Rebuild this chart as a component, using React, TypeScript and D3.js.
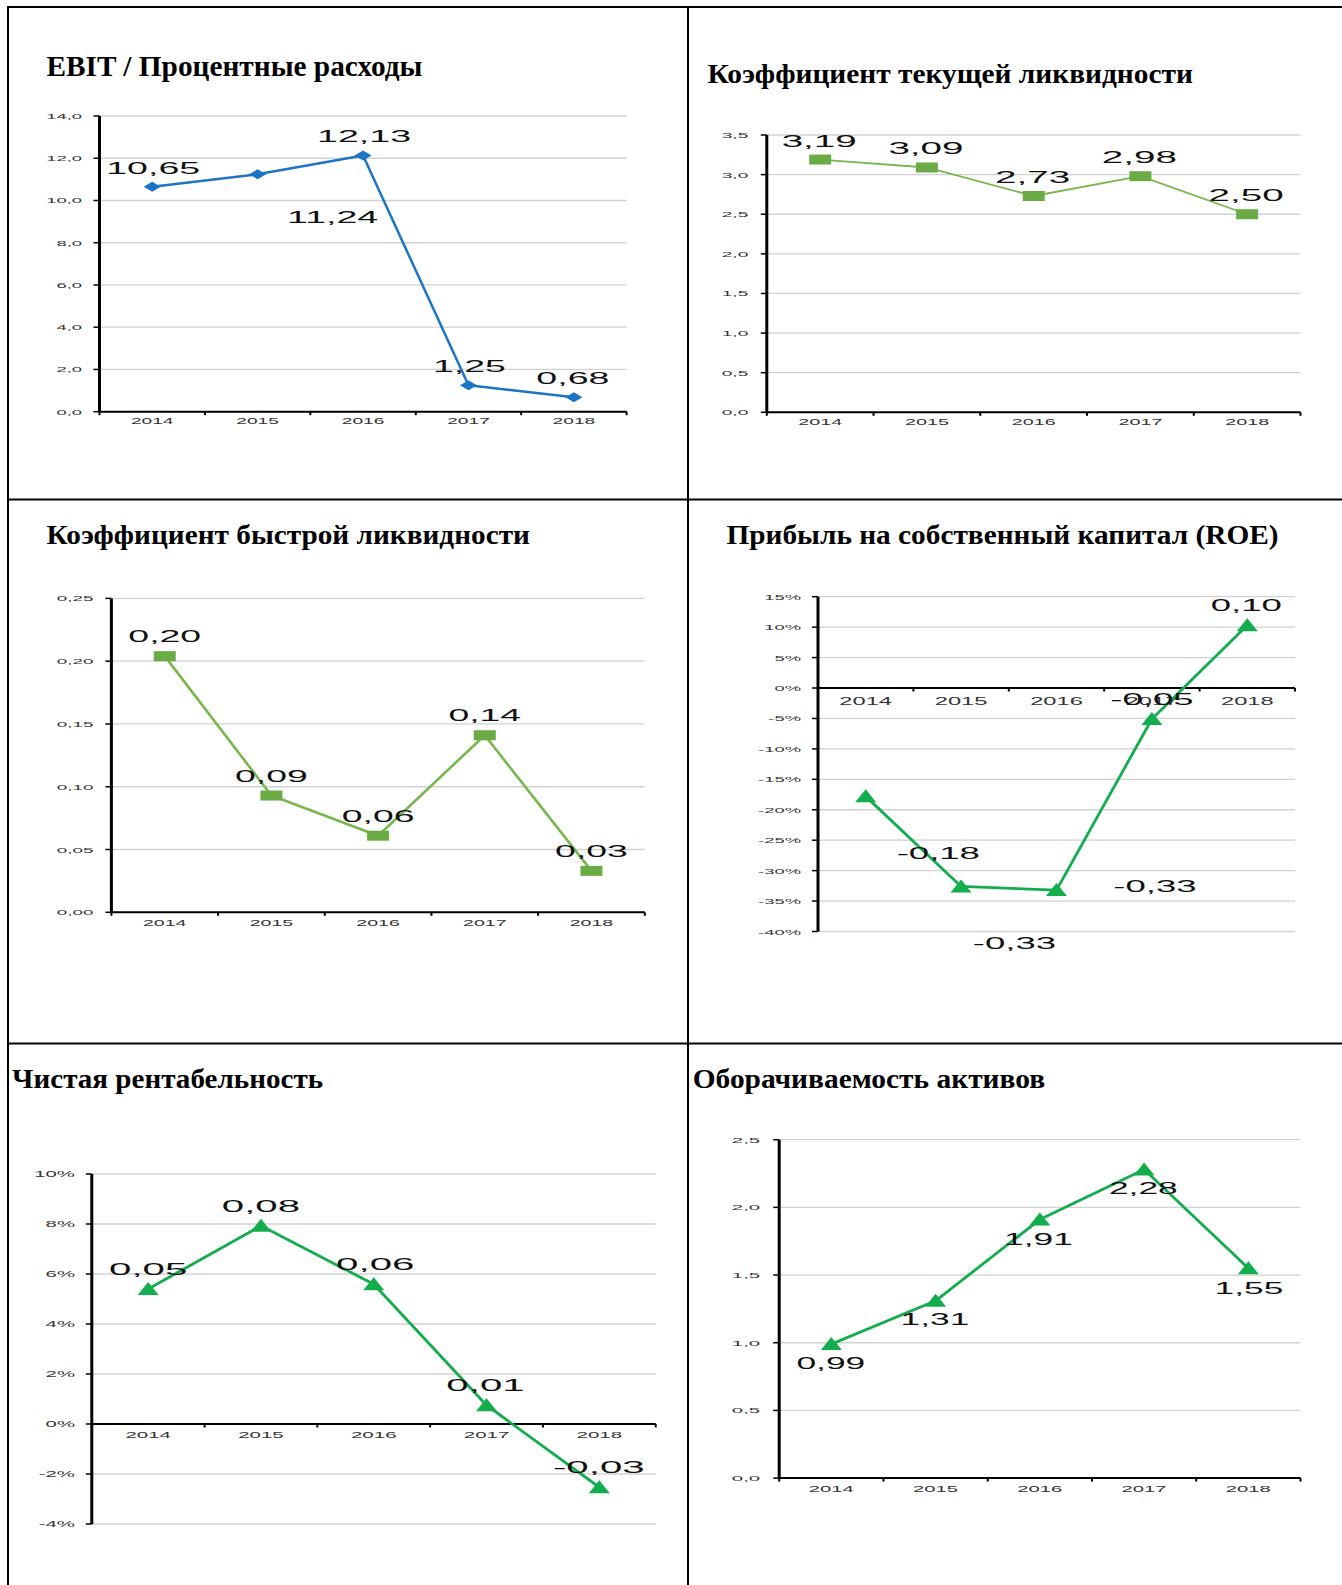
import React from 'react';
import * as d3 from 'd3';

// ---------- DATA ----------
const years = ['2014', '2015', '2016', '2017', '2018'];

const titles = [
  'EBIT / Процентные расходы',
  'Коэффициент текущей ликвидности',
  'Коэффициент быстрой ликвидности',
  'Прибыль на собственный капитал (ROE)',
  'Чистая рентабельность',
  'Оборачиваемость активов',
];

const ebitValues = [10.65, 11.24, 12.13, 1.25, 0.68];
const currentRatioValues = [3.19, 3.09, 2.73, 2.98, 2.5];
const quickRatioValues = [0.204, 0.093, 0.061, 0.141, 0.033];
const roeValues = [-0.178, -0.326, -0.332, -0.051, 0.103];
const netMarginValues = [0.054, 0.0793, 0.0559, 0.0075, -0.0253];
const assetTurnoverValues = [0.99, 1.31, 1.91, 2.28, 1.55];

const ebitTicks = [0, 2, 4, 6, 8, 10, 12, 14];
const currentRatioTicks = [0, 0.5, 1, 1.5, 2, 2.5, 3, 3.5];
const quickRatioTicks = [0, 0.05, 0.1, 0.15, 0.2, 0.25];
const roeTicks = [-0.4, -0.35, -0.3, -0.25, -0.2, -0.15, -0.1, -0.05, 0, 0.05, 0.1, 0.15];
const netMarginTicks = [-0.04, -0.02, 0, 0.02, 0.04, 0.06, 0.08, 0.1];
const assetTurnoverTicks = [0, 0.5, 1, 1.5, 2, 2.5];

// ---------- FORMATTING ----------
const ru = d3.formatLocale({
  decimal: ',',
  thousands: ' ',
  grouping: [3],
  currency: ['', ''],
  minus: '-',
});
const f1 = ru.format('.1f');
const f2 = ru.format('.2f');
const fp = ru.format('.0%');

const SANS = '"Liberation Sans", Arial, Helvetica, sans-serif';
const SERIF = '"Liberation Serif", "Times New Roman", serif';

type STextProps = {
  x: number;
  y: number;
  sx: number;
  size: number;
  anchor: 'start' | 'middle' | 'end';
  fill?: string;
  children: React.ReactNode;
};

function SText({ x, y, sx, size, anchor, fill = '#111', children }: STextProps) {
  return (
    <text
      transform={`translate(${x},${y}) scale(${sx},1)`}
      fontSize={size}
      fontFamily={SANS}
      textAnchor={anchor}
      fill={fill}
    >
      {children}
    </text>
  );
}

type Marker = 'diamond' | 'square' | 'triangle';

type ChartProps = {
  title: string;
  titleX: number;
  titleY: number;
  titleW: number;
  titleSize: number;
  left: number;
  right: number;
  top: number;
  bottom: number;
  domain: [number, number];
  ticks: number[];
  tickFmt: (v: number) => string;
  values: number[];
  labelFmt: (v: number) => string;
  color: string;
  lineColor: string;
  lineWidth: number;
  marker: Marker;
  offsets: [number, number][];
  labelSx: number;
  labelSize: number;
  tickSx: number;
  tickSize: number;
  tickGap: number;
  yearSx: number;
  yearSize: number;
  yearDy: number;
};

function markerShape(m: Marker, x: number, y: number, color: string, key: number) {
  if (m === 'diamond') {
    const p = `M${x - 8.5},${y} L${x},${y - 5} L${x + 8.5},${y} L${x},${y + 5} Z`;
    return <path key={key} d={p} fill={color} />;
  }
  if (m === 'square') {
    return <rect key={key} x={x - 11} y={y - 5} width={22} height={10} fill={color} />;
  }
  const p = `M${x},${y - 7} L${x + 10.5},${y + 6} L${x - 10.5},${y + 6} Z`;
  return <path key={key} d={p} fill={color} />;
}

function LineChart(props: ChartProps) {
  const {
    title, titleX, titleY, titleW, titleSize,
    left, right, top, bottom, domain, ticks, tickFmt, values, labelFmt,
    color, lineColor, lineWidth, marker, offsets, labelSx, labelSize,
    tickSx, tickSize, tickGap, yearSx, yearSize, yearDy,
  } = props;

  const y = d3.scaleLinear().domain(domain).range([bottom, top]);
  const x = d3.scaleBand<string>().domain(years).range([left, right]).padding(0);
  const bw = x.bandwidth();
  const cx = (i: number) => (x(years[i]) as number) + bw / 2;
  const y0 = y(0);

  const line = d3
    .line<number>()
    .x((_, i) => cx(i))
    .y((d) => y(d));

  const boundaries = d3.range(years.length + 1).map((i) => left + i * bw);

  return (
    <g>
      <text
        x={titleX}
        y={titleY}
        fontFamily={SERIF}
        fontWeight="bold"
        fontSize={titleSize}
        textLength={titleW}
        lengthAdjust="spacingAndGlyphs"
        fill="#000"
      >
        {title}
      </text>

      {ticks.map((t, i) => (
        <line key={'g' + i} x1={left} x2={right} y1={y(t)} y2={y(t)} stroke="#d2d2d2" strokeWidth={1.3} />
      ))}

      {ticks.map((t, i) => (
        <line key={'yt' + i} x1={left - 6} x2={left} y1={y(t)} y2={y(t)} stroke="#000" strokeWidth={1.5} />
      ))}
      {ticks.map((t, i) => (
        <SText key={'yl' + i} x={left - tickGap} y={y(t) + 3} sx={tickSx} size={tickSize} anchor="end" fill="#333">
          {tickFmt(t)}
        </SText>
      ))}

      <line x1={left} x2={left} y1={y(domain[1])} y2={y(domain[0])} stroke="#000" strokeWidth={3} />
      <line x1={left} x2={right} y1={y0} y2={y0} stroke="#000" strokeWidth={2} />
      {boundaries.map((bx, i) => (
        <line key={'xt' + i} x1={bx} x2={bx} y1={y0} y2={y0 + 3.5} stroke="#000" strokeWidth={2} />
      ))}
      {years.map((yr, i) => (
        <SText key={'xl' + i} x={cx(i)} y={y0 + yearDy} sx={yearSx} size={yearSize} anchor="middle" fill="#333">
          {yr}
        </SText>
      ))}

      <path d={line(values) || ''} fill="none" stroke={lineColor} strokeWidth={lineWidth} strokeLinejoin="round" />
      {values.map((v, i) => markerShape(marker, cx(i), y(v), color, i))}

      {values.map((v, i) => (
        <SText
          key={'dl' + i}
          x={cx(i) + offsets[i][0]}
          y={y(v) + offsets[i][1]}
          sx={labelSx}
          size={labelSize}
          anchor="middle"
          fill="#111"
        >
          {labelFmt(v)}
        </SText>
      ))}
    </g>
  );
}

const BLUE = '#1C74C6';
const GREEN_SQ = '#6AAB46';
const GREEN_LINE = '#78B64E';
const GREEN_TRI = '#12AE4E';

export default function App() {
  const W = 1342;
  const H = 1585;
  return (
    <svg
      width={W}
      height={H}
      viewBox={`0 0 ${W} ${H}`}
      style={{ position: 'absolute', left: 0, top: 0, background: '#fff' }}
    >
      <rect x={0} y={0} width={W} height={H} fill="#fff" />

      {/* table borders */}
      <line x1={8} x2={W} y1={7} y2={7} stroke="#000" strokeWidth={2} />
      <line x1={8} x2={8} y1={6} y2={H} stroke="#000" strokeWidth={2} />
      <line x1={688} x2={688} y1={6} y2={H} stroke="#000" strokeWidth={2} />
      <line x1={8} x2={W} y1={499.5} y2={499.5} stroke="#000" strokeWidth={2} />
      <line x1={8} x2={W} y1={1043.5} y2={1043.5} stroke="#000" strokeWidth={2} />

      <LineChart
        title={titles[0]} titleX={46.5} titleY={76} titleW={376} titleSize={29}
        left={99.5} right={626.6} top={116} bottom={411.7}
        domain={[0, 14]} ticks={ebitTicks} tickFmt={f1}
        values={ebitValues} labelFmt={f2}
        color={BLUE} lineColor={BLUE} lineWidth={2.5} marker="diamond"
        offsets={[[1, -13], [75, 49], [1, -13], [1, -13.5], [-1, -13.3]]}
        labelSx={2.21} labelSize={17}
        tickSx={2.3} tickSize={8} tickGap={17.5}
        yearSx={2.02} yearSize={9.5} yearDy={12.3}
      />

      <LineChart
        title={titles[1]} titleX={707.4} titleY={83.3} titleW={485.5} titleSize={28}
        left={766.8} right={1300.5} top={135} bottom={412.3}
        domain={[0, 3.5]} ticks={currentRatioTicks} tickFmt={f1}
        values={currentRatioValues} labelFmt={f2}
        color={GREEN_SQ} lineColor={GREEN_LINE} lineWidth={1.8} marker="square"
        offsets={[[-1, -13], [-1, -13], [-1, -13], [-1, -13], [-1, -13]]}
        labelSx={2.27} labelSize={17}
        tickSx={2.4} tickSize={8} tickGap={18.5}
        yearSx={2.08} yearSize={9.5} yearDy={12.7}
      />

      <LineChart
        title={titles[2]} titleX={46.4} titleY={543.9} titleW={483.5} titleSize={28}
        left={111.4} right={644.8} top={598.4} bottom={912.3}
        domain={[0, 0.25]} ticks={quickRatioTicks} tickFmt={f2}
        values={quickRatioValues} labelFmt={f2}
        color={GREEN_SQ} lineColor={GREEN_LINE} lineWidth={2.6} marker="square"
        offsets={[[0, -14], [0, -14], [0, -14], [0, -14], [0, -14]]}
        labelSx={2.2} labelSize={17}
        tickSx={2.36} tickSize={8} tickGap={18}
        yearSx={2.06} yearSize={9.5} yearDy={13.5}
      />

      <LineChart
        title={titles[3]} titleX={726.4} titleY={543.9} titleW={552.2} titleSize={28}
        left={818} right={1295} top={596.7} bottom={931.5}
        domain={[-0.4, 0.15]} ticks={roeTicks} tickFmt={fp}
        values={roeValues} labelFmt={f2}
        color={GREEN_TRI} lineColor={GREEN_TRI} lineWidth={2.8} marker="triangle"
        offsets={[[72.6, 62.2], [53.4, 62.3], [98.4, 1.7], [0, -14], [-1, -14]]}
        labelSx={2.15} labelSize={17}
        tickSx={2.3} tickSize={8} tickGap={17}
        yearSx={2.06} yearSize={11.5} yearDy={17.3}
      />

      <LineChart
        title={titles[4]} titleX={12.1} titleY={1087.7} titleW={311} titleSize={28}
        left={91.8} right={655.7} top={1174} bottom={1524}
        domain={[-0.04, 0.1]} ticks={netMarginTicks} tickFmt={fp}
        values={netMarginValues} labelFmt={f2}
        color={GREEN_TRI} lineColor={GREEN_TRI} lineWidth={2.8} marker="triangle"
        offsets={[[0, -14], [0, -14], [1.5, -14], [-1, -14], [-0.5, -14]]}
        labelSx={2.37} labelSize={17}
        tickSx={2.4} tickSize={8.5} tickGap={16.8}
        yearSx={2.16} yearSize={9.5} yearDy={14}
      />

      <LineChart
        title={titles[5]} titleX={692.7} titleY={1087.7} titleW={352.4} titleSize={28}
        left={779.2} right={1300.5} top={1139.7} bottom={1478.1}
        domain={[0, 2.5]} ticks={assetTurnoverTicks} tickFmt={f1}
        values={assetTurnoverValues} labelFmt={f2}
        color={GREEN_TRI} lineColor={GREEN_TRI} lineWidth={2.8} marker="triangle"
        offsets={[[-0.5, 25], [-0.7, 24.2], [-1.4, 25.7], [-0.8, 24.1], [0.6, 25.5]]}
        labelSx={2.08} labelSize={17}
        tickSx={2.55} tickSize={8} tickGap={19}
        yearSx={2.13} yearSize={9.5} yearDy={14.2}
      />
    </svg>
  );
}
